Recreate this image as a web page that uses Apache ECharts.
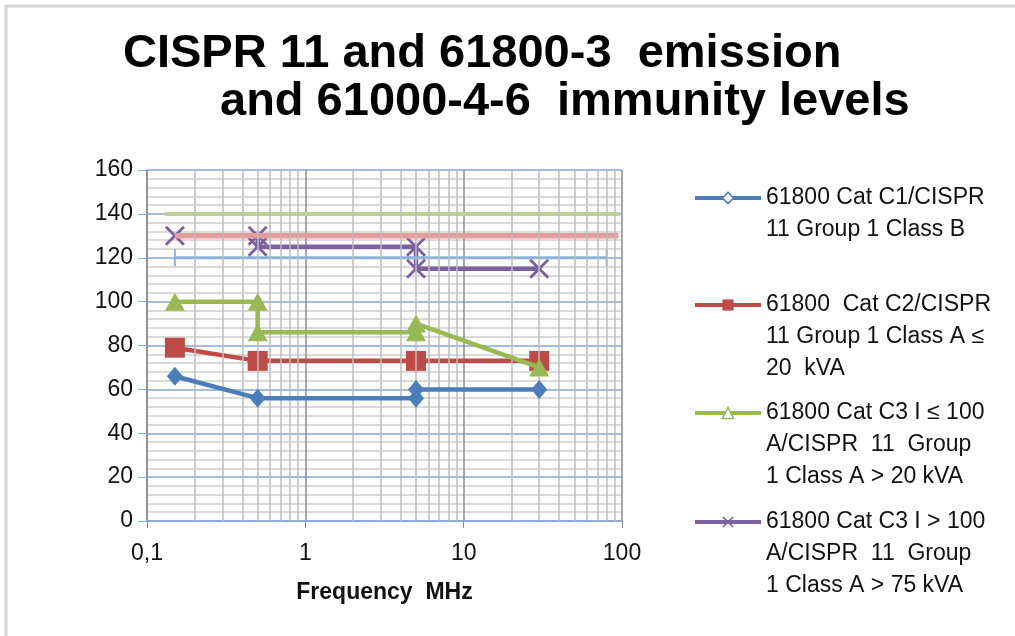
<!DOCTYPE html>
<html>
	<head>
		<meta charset="UTF-8">
		<title>CISPR 11 / 61800-3 / 61000-4-6</title>
		<style>
			html, body { margin: 0; padding: 0; background: #fff; }
			#chart { width: 1015px; height: 636px; }
		</style>
	</head>
	<body>
		<div id="chart"></div>
	</body>
	<script src="https://cdn.jsdelivr.net/npm/echarts@6/dist/echarts.min.js" type="text/javascript" charset="utf-8"></script>
	<script type="text/javascript">
		// emission limits (dBµV) vs frequency (MHz)
		var c1Freq = [0.15, 0.5, 5, 5, 30];
		var c1Level = [66, 56, 56, 60, 60];
		var c2Freq = [0.15, 0.5, 5, 30];
		var c2Level = [79, 73, 73, 73];
		var c3Freq = [0.15, 0.5, 0.5, 5, 5, 30];
		var c3Level = [100, 100, 86, 86, 90, 70];
		var c3bigFreq = [0.15, 0.5, 0.5, 5, 5, 30];
		var c3bigLevel = [130, 130, 125, 125, 115, 115];

		// immunity levels 61000-4-6 (10 V, 3 V, 1 V)
		var imm10Freq = [0.13, 97];
		var imm10Level = [140, 140];
		var imm3Freq = [0.15, 95];
		var imm3Level = [130, 130];
		var imm1Freq = [0.15, 80];
		var imm1Level = [120, 120];

		// minor vertical grid (log decades)
		var minorFreqs = [0.2, 0.3, 0.4, 0.5, 0.6, 0.7, 0.8, 0.9,
			2, 3, 4, 5, 6, 7, 8, 9,
			20, 30, 40, 50, 60, 70, 80, 90];

		var seriesNames = [
			'61800 Cat C1/CISPR\n11 Group 1 Class B',
			'61800  Cat C2/CISPR\n11 Group 1 Class A \u2264\n20  kVA',
			'61800 Cat C3 I \u2264 100\nA/CISPR  11  Group\n1 Class A > 20 kVA',
			'61800 Cat C3 I > 100\nA/CISPR  11  Group\n1 Class A > 75 kVA'
		];
		var seriesColors = ['#4a7ebb', '#be4b48', '#98b954', '#7d60a0'];
		var hollowMarker = [true, false, true, false];
		var legendTops = [145, 220, 328, 437];

		var FONT = "'Liberation Sans', Arial, sans-serif";
		var LH = 32;

		function pairs(xs, ys) {
			return xs.map(function (x, i) { return [x, ys[i]]; });
		}

		var chart = echarts.init(document.getElementById('chart'));

		// one legend per entry; blank lines on top keep the icon on the first text line
		var legends = seriesNames.map(function (name, i) {
			var lines = name.split('\n').length;
			var pad = new Array(lines).join('\n');
			var item = { name: name };
			if (hollowMarker[i]) {
				item.itemStyle = { color: '#fff', borderColor: seriesColors[i], borderWidth: 1.5 };
			}
			return {
				orient: 'vertical',
				left: 688,
				top: legendTops[i],
				itemWidth: 66,
				itemHeight: 14,
				selectedMode: false,
				data: [item],
				lineStyle: { width: 4, color: seriesColors[i] },
				formatter: function (n) { return pad + n; },
				textStyle: {
					fontFamily: FONT,
					fontSize: 23,
					color: '#111',
					lineHeight: LH
				}
			};
		});

		var xSymbol = 'path://M0,1L1,0L5,4L9,0L10,1L6,5L10,9L9,10L5,6L1,10L0,9L4,5Z';

		var option = {
			animation: false,
			backgroundColor: '#fff',
			title: [
				{
					text: 'CISPR 11 and 61800-3  emission',
					left: 123, top: 31, padding: 0,
					textStyle: { fontFamily: FONT, fontSize: 47, fontWeight: 'bold', color: '#000' }
				},
				{
					text: 'and 61000-4-6  immunity levels',
					left: 220, top: 79, padding: 0,
					textStyle: { fontFamily: FONT, fontSize: 47, fontWeight: 'bold', color: '#000' }
				}
			],
			legend: legends,
			grid: { left: 147, top: 170, width: 475, height: 351 },
			xAxis: {
				type: 'log',
				logBase: 10,
				min: 0.1,
				max: 100,
				name: 'Frequency  MHz',
				nameLocation: 'middle',
				nameGap: 60,
				nameTextStyle: { fontFamily: FONT, fontSize: 23, fontWeight: 'bold', color: '#111' },
				axisLine: { lineStyle: { color: '#86a8d8', width: 1.5 } },
				axisTick: { show: true, length: 7, lineStyle: { color: '#8c8c8c' } },
				axisLabel: {
					fontFamily: FONT, fontSize: 23, color: '#111', margin: 21,
					formatter: function (v) { return String(v).replace('.', ','); }
				},
				splitLine: { show: true, lineStyle: { color: '#8c8c8c', width: 1.5 } }
			},
			yAxis: {
				type: 'value',
				min: 0,
				max: 160,
				interval: 20,
				axisLine: { show: true, lineStyle: { color: '#8c8c8c', width: 1.5 } },
				axisTick: { show: true, length: 9, lineStyle: { color: '#86a8d8' } },
				axisLabel: { fontFamily: FONT, fontSize: 23, color: '#111', margin: 14 },
				splitLine: { lineStyle: { color: '#86a8d8', width: 1.5 } },
				minorTick: { show: false, splitNumber: 5 },
				minorSplitLine: { show: true, lineStyle: { color: '#d0d0d0', width: 1.5 } }
			},
			graphic: [{
				type: 'rect',
				shape: { x: 6, y: 6, width: 1100, height: 700 },
				style: { fill: null, stroke: '#d6d6d6', lineWidth: 3 },
				silent: true
			}],
			series: [
				{
					type: 'line',
					data: [],
					silent: true,
					z: 1,
					markLine: {
						silent: true,
						symbol: 'none',
						label: { show: false },
						lineStyle: { color: '#bdbdbd', width: 1.5, type: 'solid' },
						data: minorFreqs.map(function (f) { return { xAxis: f }; })
					}
				},
				{
					name: seriesNames[0],
					type: 'line',
					data: pairs(c1Freq, c1Level),
					color: seriesColors[0],
					symbol: 'diamond',
					symbolSize: [16, 19],
					lineStyle: { width: 4.5 },
					z: 5
				},
				{
					name: seriesNames[1],
					type: 'line',
					data: pairs(c2Freq, c2Level),
					color: seriesColors[1],
					symbol: 'rect',
					symbolSize: 20,
					lineStyle: { width: 4.5 },
					z: 4
				},
				{
					name: seriesNames[2],
					type: 'line',
					data: pairs(c3Freq, c3Level),
					color: seriesColors[2],
					symbol: 'triangle',
					symbolSize: [20, 18],
					lineStyle: { width: 4.5 },
					z: 6
				},
				{
					name: seriesNames[3],
					type: 'line',
					data: pairs(c3bigFreq, c3bigLevel),
					color: seriesColors[3],
					symbol: xSymbol,
					symbolSize: 20,
					lineStyle: { width: 4.5 },
					z: 3
				},
				{
					type: 'line',
					data: pairs(imm10Freq, imm10Level),
					color: '#bcd395',
					symbol: 'none',
					lineStyle: { width: 4 },
					z: 3
				},
				{
					type: 'line',
					data: pairs(imm3Freq, imm3Level),
					color: '#e39e9c',
					symbol: 'none',
					lineStyle: { width: 5.5 },
					z: 3.5
				},
				{
					type: 'line',
					data: pairs(imm1Freq, imm1Level),
					color: '#8eb1dc',
					symbol: 'rect',
					symbolSize: [2, 17],
					lineStyle: { width: 3 },
					z: 3
				}
			]
		};

		chart.setOption(option);
	</script>
</html>
